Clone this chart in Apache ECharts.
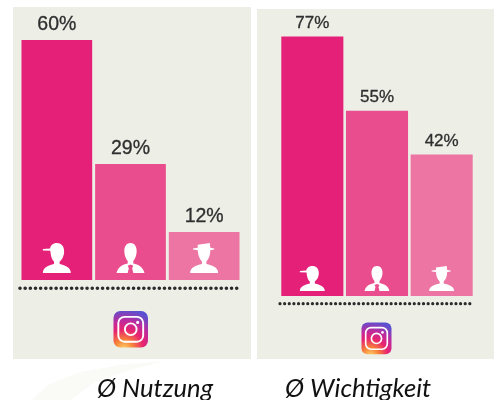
<!DOCTYPE html>
<html><head><meta charset="utf-8">
<style>html,body{margin:0;padding:0;background:#fff}#c{width:494px;height:400px}</style>
<script src="https://cdn.jsdelivr.net/npm/echarts@6/dist/echarts.min.js"></script>
</head><body><div id="c"></div>
<script>
const groups = ['Junge', 'Mittlere', 'Ältere'];
const nutzung = [60, 29, 12];
const wichtigkeit = [77, 55, 42];
const captions = ['Ø Nutzung', 'Ø Wichtigkeit'];
const barColors = ['#E52079', '#EA4D8D', '#EC75A4'];

const pCap = 'path://M0 20 L26 18 C28 5 40 0 50 0 C65 0 76 10 76 28 C76 44 68 56 60 62 L60 70 C80 74 100 82 100 100 L0 100 C0 82 20 74 40 70 L40 62 C33 56 28 45 27 26 L0 25 Z';
const pSuit = 'path://M50 0 C66 0 73 14 72 30 C71 44 65 54 60 60 L60 68 C78 72 94 78 100 100 L60 100 L56 84 L60 76 L50 72 L40 76 L44 84 L40 100 L0 100 C6 78 22 72 40 68 L40 60 C35 54 29 44 28 30 C27 14 34 0 50 0 Z';
const pHat = 'path://M27 6 L70 0 L72 16 L86 18 L86 22 L72 24 C72 42 66 54 58 62 L58 70 C80 74 100 82 100 100 L0 100 C0 82 20 74 42 70 L42 62 C34 54 28 42 27 24 L10 22 L10 18 L27 16 Z';
const symbols = [pCap, pSuit, pHat];

const chart = echarts.init(document.getElementById('c'), null, {renderer: 'canvas'});

function igIcon(x, y, s) {
  return {
    type: 'group', x, y, silent: true,
    children: [
      {type:'rect', shape:{x:0,y:0,width:s,height:s*1.06,r:s*0.2},
       style:{fill:new echarts.graphic.RadialGradient(0.3,1.05,1.15,[
         {offset:0,color:'#FDD568'},{offset:0.25,color:'#F77F3A'},{offset:0.5,color:'#E8246F'},{offset:0.72,color:'#C02A9C'},{offset:1,color:'#5B51D0'}])}},
      {type:'rect', shape:{x:s*0.14,y:s*0.17,width:s*0.72,height:s*0.72,r:s*0.18},
       style:{fill:'none',stroke:'#fff',lineWidth:s*0.055}},
      {type:'circle', shape:{cx:s*0.5,cy:s*0.53,r:s*0.17},
       style:{fill:'none',stroke:'#fff',lineWidth:s*0.055}},
      {type:'circle', shape:{cx:s*0.7,cy:s*0.33,r:s*0.045}, style:{fill:'#fff'}}
    ]
  };
}
function dots(x1, x2, y, gap, w) {
  return {type:'line', silent:true, shape:{x1,y1:y,x2,y2:y},
    style:{stroke:'#2b2b2b', lineWidth:w, lineCap:'round', lineDash:[0.01, gap]}};
}
function barSeries(values, idx, fs) {
  return {
    type:'bar', xAxisIndex:idx, yAxisIndex:idx, barCategoryGap:'4%', silent:true,
    data: values.map((v,i)=>({value:v, itemStyle:{color:barColors[i]}})),
    label:{show:true, position:'top', distance:5, formatter:'{c}%', fontFamily:'Liberation Sans', fontSize:fs, color:'#2e2e2e', textBorderColor:'#2e2e2e', textBorderWidth:0.3}
  };
}
function iconSeries(values, idx, size, lift) {
  return {
    type:'scatter', xAxisIndex:idx, yAxisIndex:idx, silent:true, z:5,
    data: values.map((v,i)=>({value:[i,0], symbol:symbols[i], symbolSize:size, symbolOffset:[0,-(size[1]/2+lift)], itemStyle:{color:'#fff',opacity:1}}))
  };
}
function cat(idx){return {type:'category',gridIndex:idx,data:groups,axisLine:{show:false},axisTick:{show:false},axisLabel:{show:false}};}
function val(idx,max){return {type:'value',gridIndex:idx,min:0,max:max,axisLine:{show:false},axisTick:{show:false},axisLabel:{show:false},splitLine:{show:false}};}

chart.setOption({
  animation:false,
  backgroundColor:'#fff',
  grid:[
    {left:20,top:40,width:221,height:240},
    {left:280,top:36.5,width:194,height:259.5}
  ],
  xAxis:[cat(0),cat(1)],
  yAxis:[val(0,60),val(1,77)],
  series:[
    barSeries(nutzung,0,19.5), iconSeries(nutzung,0,[28,30],7),
    barSeries(wichtigkeit,1,17), iconSeries(wichtigkeit,1,[25,25],5)
  ],
  graphic:[
    {type:'polygon', z:-3, silent:true, shape:{points:[[32,400],[50,384],[80,372],[120,365],[165,361],[130,370],[95,382],[70,400]]}, style:{fill:'#FAFAF7'}},
    {type:'rect', z:-2, silent:true, shape:{x:13,y:7,width:238,height:352}, style:{fill:'#EDEFE7'}},
    {type:'rect', z:-2, silent:true, shape:{x:257,y:9,width:237,height:350}, style:{fill:'#EDEFE7'}},
    dots(20,240.5,288.3,5.15,3.6),
    dots(280,473,303.7,4.62,3.2),
    igIcon(113.5,311,34.5),
    igIcon(361.5,322.5,30),
    {type:'text', silent:true, left:97, top:376, style:{text:captions[0],fontFamily:'Lato',fontStyle:'italic',fontSize:25.6,fill:'#111'}},
    {type:'text', silent:true, left:285, top:376, style:{text:captions[1],fontFamily:'Lato',fontStyle:'italic',fontSize:25.6,fill:'#111'}}
  ]
});
</script></body></html>
